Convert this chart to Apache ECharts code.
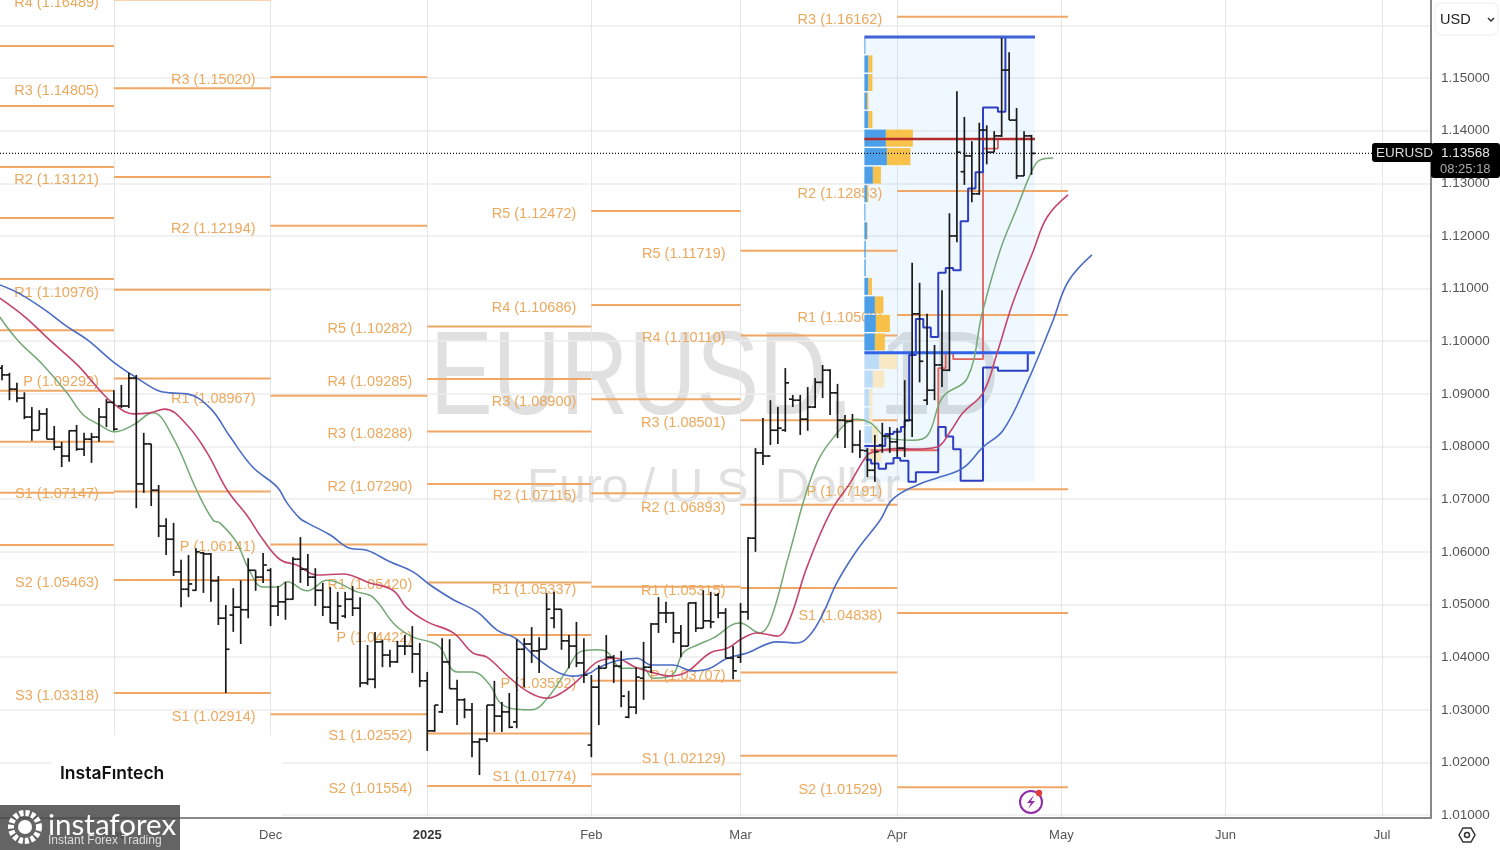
<!DOCTYPE html>
<html>
<head>
<meta charset="utf-8">
<title>EURUSD 1D</title>
<script src="https://cdn.jsdelivr.net/npm/echarts@6/dist/echarts.min.js"></script>
<style>
  html, body { margin: 0; padding: 0; background: #fff; }
  #chart { width: 1500px; height: 850px; }
</style>
</head>
<body>
<div id="chart"></div>
<script>
// daily bars (index 0 is the first visible bar)
const opens = [1.0949,1.0936,1.0909,1.0892,1.0856,1.0831,1.0862,1.0814,1.0799,1.0782,1.0830,1.0795,1.0814,1.0818,1.0856,1.0884,1.0877,1.0877,1.0930,1.0729,1.0805,1.0717,1.0649,1.0624,1.0562,1.0529,1.0527,1.0598,1.0596,1.0545,1.0474,1.0480,1.0495,1.0490,1.0565,1.0552,1.0565,1.0497,1.0505,1.0510,1.0586,1.0567,1.0552,1.0527,1.0495,1.0465,1.0478,1.0510,1.0493,1.0351,1.0358,1.0429,1.0404,1.0391,1.0421,1.0421,1.0406,1.0355,1.0260,1.0296,1.0391,1.0340,1.0319,1.0300,1.0239,1.0244,1.0309,1.0288,1.0296,1.0277,1.0415,1.0425,1.0412,1.0415,1.0474,1.0491,1.0431,1.0421,1.0389,1.0233,1.0343,1.0379,1.0400,1.0383,1.0286,1.0305,1.0360,1.0381,1.0463,1.0484,1.0484,1.0446,1.0421,1.0503,1.0455,1.0469,1.0518,1.0484,1.0398,1.0400,1.0486,1.0626,1.0788,1.0782,1.0831,1.0831,1.0890,1.0888,1.0852,1.0875,1.0922,1.0945,1.0902,1.0850,1.0848,1.0803,1.0792,1.0755,1.0803,1.0820,1.0809,1.0797,1.0850,1.1052,1.0888,1.0907,1.0955,1.0945,1.1200,1.1322,1.1352,1.1280,1.1401,1.1359,1.1390,1.1515,1.1420,1.1314,1.1390];
const highs = [1.0955,1.0940,1.0921,1.0903,1.0875,1.0869,1.0873,1.0839,1.0809,1.0831,1.0841,1.0826,1.0826,1.0873,1.0890,1.0907,1.0917,1.0940,1.0936,1.0826,1.0805,1.0727,1.0664,1.0655,1.0585,1.0594,1.0607,1.0600,1.0598,1.0554,1.0499,1.0531,1.0546,1.0588,1.0565,1.0598,1.0569,1.0535,1.0543,1.0590,1.0628,1.0596,1.0569,1.0541,1.0533,1.0524,1.0524,1.0535,1.0514,1.0423,1.0448,1.0433,1.0414,1.0431,1.0442,1.0459,1.0427,1.0372,1.0309,1.0436,1.0434,1.0357,1.0322,1.0313,1.0246,1.0309,1.0355,1.0315,1.0332,1.0434,1.0436,1.0457,1.0438,1.0522,1.0524,1.0491,1.0442,1.0467,1.0436,1.0366,1.0385,1.0442,1.0404,1.0412,1.0336,1.0381,1.0429,1.0465,1.0514,1.0505,1.0486,1.0461,1.0503,1.0505,1.0527,1.0524,1.0522,1.0493,1.0421,1.0503,1.0628,1.0797,1.0854,1.0888,1.0875,1.0949,1.0898,1.0898,1.0913,1.0930,1.0955,1.0947,1.0919,1.0860,1.0862,1.0831,1.0797,1.0822,1.0845,1.0837,1.0835,1.0926,1.1149,1.1111,1.1052,1.0993,1.1097,1.1243,1.1475,1.1426,1.1380,1.1415,1.1410,1.1399,1.1576,1.1549,1.1443,1.1399,1.1392];
const lows = [1.0926,1.0888,1.0884,1.0852,1.0811,1.0831,1.0814,1.0793,1.0761,1.0771,1.0792,1.0782,1.0769,1.0809,1.0837,1.0830,1.0873,1.0873,1.0683,1.0712,1.0687,1.0628,1.0594,1.0554,1.0495,1.0514,1.0526,1.0522,1.0505,1.0461,1.0332,1.0448,1.0425,1.0474,1.0526,1.0541,1.0459,1.0478,1.0471,1.0509,1.0541,1.0535,1.0497,1.0478,1.0465,1.0452,1.0474,1.0478,1.0343,1.0347,1.0341,1.0381,1.0381,1.0389,1.0404,1.0370,1.0343,1.0222,1.0258,1.0294,1.0340,1.0271,1.0284,1.0210,1.0176,1.0239,1.0258,1.0258,1.0265,1.0265,1.0343,1.0389,1.0370,1.0415,1.0455,1.0414,1.0379,1.0381,1.0351,1.0210,1.0271,1.0379,1.0351,1.0305,1.0284,1.0292,1.0319,1.0370,1.0446,1.0465,1.0427,1.0400,1.0421,1.0448,1.0455,1.0455,1.0474,1.0398,1.0358,1.0389,1.0471,1.0600,1.0765,1.0803,1.0805,1.0828,1.0875,1.0822,1.0830,1.0873,1.0892,1.0860,1.0816,1.0797,1.0788,1.0778,1.0742,1.0733,1.0788,1.0788,1.0780,1.0780,1.0818,1.0922,1.0879,1.0888,1.0913,1.0943,1.1188,1.1297,1.1264,1.1278,1.1336,1.1359,1.1388,1.1420,1.1308,1.1314,1.1316];
const closes = [1.0936,1.0909,1.0892,1.0856,1.0831,1.0862,1.0814,1.0799,1.0782,1.0830,1.0795,1.0814,1.0818,1.0856,1.0884,1.0833,1.0877,1.0930,1.0729,1.0805,1.0717,1.0649,1.0624,1.0562,1.0529,1.0539,1.0600,1.0596,1.0545,1.0474,1.0415,1.0495,1.0490,1.0565,1.0552,1.0575,1.0497,1.0505,1.0510,1.0586,1.0567,1.0552,1.0527,1.0495,1.0465,1.0497,1.0510,1.0493,1.0351,1.0358,1.0429,1.0404,1.0391,1.0421,1.0421,1.0406,1.0355,1.0260,1.0309,1.0391,1.0340,1.0319,1.0300,1.0239,1.0244,1.0309,1.0288,1.0296,1.0267,1.0415,1.0425,1.0412,1.0415,1.0491,1.0491,1.0431,1.0421,1.0389,1.0366,1.0343,1.0379,1.0400,1.0383,1.0326,1.0305,1.0362,1.0381,1.0463,1.0484,1.0484,1.0446,1.0421,1.0503,1.0455,1.0469,1.0467,1.0484,1.0398,1.0374,1.0486,1.0626,1.0788,1.0782,1.0831,1.0835,1.0921,1.0888,1.0852,1.0875,1.0922,1.0945,1.0902,1.0850,1.0848,1.0803,1.0793,1.0755,1.0790,1.0820,1.0809,1.0797,1.0850,1.1052,1.0962,1.0907,1.0955,1.0945,1.1200,1.1359,1.1352,1.1280,1.1401,1.1359,1.1390,1.1515,1.1420,1.1314,1.1390,1.13568];

// alligator lines
const jawBars = [-0.3,2.4,5.8,8.4,11.5,14.9,18.1,20.8,22.5,24.8,27.9,30.6,33.6,36.9,38.2,39.9,40.9,44,46.6,48.9,52,55.1,57.4,60.5,63.7,66.4,68.8,71.7,74.4,76.5,78.8,79.8,82.4,85.1,87.1,89.9,92.6,94.9,97.2,99.9,103.9,106.6,108.3,110.1,111.9,114.6,117.7,119.4,122.7,125.7,128.8,131.5,134.2,137.4,140.9,142.9,146.1];
const jawVals = [1.1107,1.1090,1.1059,1.1031,1.1002,1.0961,1.0930,1.0907,1.0902,1.0900,1.0873,1.0818,1.0761,1.0723,1.0693,1.0664,1.0655,1.0632,1.0607,1.0603,1.0581,1.0562,1.0537,1.0509,1.0486,1.0451,1.0436,1.0398,1.0372,1.0364,1.0370,1.0379,1.0393,1.0398,1.0385,1.0385,1.0374,1.0379,1.0398,1.0408,1.0429,1.0427,1.0442,1.0484,1.0541,1.0603,1.0660,1.0700,1.0727,1.0742,1.0759,1.0799,1.0831,1.0921,1.1040,1.1113,1.1164];
const teethBars = [-0.3,3.1,6.4,10.1,13.1,14.9,17.6,19.8,21.8,24.8,27.5,30.2,32.8,35,37.3,39.5,42.2,45.7,49.3,52.4,54.3,57,60.5,63.1,65,68.1,70.8,73.1,75.2,77.5,79.8,82.2,84.9,86.9,89.5,91.8,94.9,97.2,99.3,101.2,103.9,105.4,107.9,111,113.7,116,117,119.7,122.4,125.3,127.1,128.8,131.5,133.4,135.5,138.2,140.1,142.9];
const teethVals = [1.1082,1.1046,1.1002,1.0955,1.0907,1.0882,1.0862,1.0864,1.0871,1.0841,1.0788,1.0717,1.0670,1.0623,1.0585,1.0575,1.0556,1.0558,1.0541,1.0527,1.0493,1.0467,1.0446,1.0408,1.0400,1.0360,1.0332,1.0322,1.0334,1.0360,1.0391,1.0398,1.0381,1.0372,1.0364,1.0372,1.0408,1.0417,1.0436,1.0446,1.0440,1.0465,1.0571,1.0674,1.0731,1.0784,1.0790,1.0796,1.0795,1.0799,1.0828,1.0864,1.0902,1.0978,1.1073,1.1170,1.1236,1.1278];
const lipsBars = [-0.3,2.1,5.5,8.7,10.9,13.1,15.1,17.6,20.2,22.9,26.1,28.3,29.2,31.5,33,35,36.9,38.2,40.9,43.6,47.6,49.7,52.7,55.1,57.4,58.7,61,63.1,65.4,66.8,69,71,73.1,75.7,77.5,79.8,81.1,83.1,85.9,87.3,89.8,91.3,93.2,95.3,98.9,101.6,103,105.4,108.7,111.4,114.6,116.4,118.8,122.1,124.1,126.1,129.4,131.4,133.8,136.1,138.1,139.1,140.9];
const lipsVals = [1.1046,1.1002,1.0955,1.0902,1.0860,1.0841,1.0828,1.0841,1.0864,1.0818,1.0717,1.0660,1.0655,1.0617,1.0569,1.0533,1.0533,1.0543,1.0526,1.0546,1.0524,1.0514,1.0461,1.0438,1.0429,1.0419,1.0372,1.0372,1.0347,1.0313,1.0301,1.0300,1.0322,1.0375,1.0410,1.0414,1.0410,1.0379,1.0379,1.0360,1.0366,1.0408,1.0423,1.0436,1.0465,1.0446,1.0470,1.0590,1.0750,1.0816,1.0852,1.0845,1.0816,1.0812,1.0822,1.0894,1.0930,1.1054,1.1173,1.1255,1.1325,1.1344,1.1348];

// pivot levels: each line runs levelFrom -> levelTo, its label sits left of it
const levelFrom = [-0.3,-0.3,-0.3,-0.3,-0.3,-0.3,-0.3,-0.3,-0.3,-0.3, 15,15,15,15,15,15,15,15, 36,36,36,36,36, 57,57,57,57,57,57,57,57, 79,79,79,79,79,79,79, 99,99,99,99,99,99,99, 120,120,120,120,120,120];
const levelTo = [15,15,15,15,15,15,15,15,15,15, 36,36,36,36,36,36,36,36, 57,57,57,57,57, 79,79,79,79,79,79,79,79, 99,99,99,99,99,99,99, 120,120,120,120,120,120,120, 142.9,142.9,142.9,142.9,142.9,142.9];
const levelName = ['','','','','','','','','','', 'R4','R3','R2','R1','P','S1','S2','S3', 'R3','R2','R1','P','S1', 'R5','R4','R3','R2','R1','P','S1','S2', 'R5','R4','R3','R2','R1','P','S1', 'R5','R4','R3','R2','R1','P','S1', 'R3','R2','R1','P','S1','S2'];
const levelValue = [1.15608,1.1447,1.1331,1.1234,1.1118,1.1021,1.0906,1.0809,1.0712,1.0613, 1.16489,1.14805,1.13121,1.10976,1.09292,1.07147,1.05463,1.03318, 1.15020,1.12194,1.08967,1.06141,1.02914, 1.10282,1.09285,1.08288,1.07290,1.05420,1.04422,1.02552,1.01554, 1.12472,1.10686,1.08900,1.07115,1.05337,1.03552,1.01774, 1.11719,1.10110,1.08501,1.06893,1.05315,1.03707,1.02129, 1.16162,1.12853,1.10500,1.07191,1.04838,1.01529];

// fixed range volume profile
const profileFrom = 115.6;
const profileTo = 138.47;
const profileHigh = 1.1578;
const profileLow = 1.0733;
const profileRow = 0.00352;
const profileBuy = [0.13,0.54,0.54,0.34,0.54,2.88,3.02,1.14,0.34,0.13,0.34,0.17,0.17,0.54,1.41,1.54,1.41,2.01,1.14,0.67,0.67,1.07,0.67,0.2];
const profileSell = [0,0.54,0.54,0.2,0.54,3.62,3.15,1.07,0.2,0,0.09,0,0,0.47,1.14,1.88,1.34,2.35,1.54,0.4,0.4,0.8,1.61,0.13];
const profilePoc = 1.1384;
const profileVal = 1.0978;
const upperBars = [115.6,118.4,119.5,120.5,121,121.6,122.5,123.5,124.5,125.5,126.5,127.5,128.5,129.5,130.5,131.5,133.5,134.5];
const upperVals = [1.0801,1.0824,1.0828,1.0837,1.0849,1.0974,1.1042,1.1026,1.1008,1.1130,1.1139,1.1135,1.1228,1.1290,1.1321,1.1444,1.1436,1.1578];
const lowerBars = [115.8,116.5,117.5,118.5,119.5,120.4,121.5,122.5,125.5,126.5,127.5,128.5,131.5,133.5,137.5];
const lowerVals = [1.0775,1.0768,1.0758,1.0768,1.0778,1.0773,1.0733,1.0751,1.0837,1.0819,1.0795,1.0735,1.0950,1.0944,1.0978];
const redBars = [116.4,125.5,126.5,127.5,131.5,133.5];
const redVals = [1.0793,1.0949,1.0978,1.0966,1.1366,1.1383];

const monthBars = [15,36,57,79,99,120,142,164,185];
const monthLabels = ['Nov','Dec','2025','Feb','Mar','Apr','May','Jun','Jul'];
const priceTicks = [1.01,1.02,1.03,1.04,1.05,1.06,1.07,1.08,1.09,1.10,1.11,1.12,1.13,1.14,1.15,1.16];
const lastPrice = 1.13568;

const FONT = '"Liberation Sans", Arial, sans-serif';
const xMin = -0.268;
const xMax = 191.55;
const zip = (xs, ys) => xs.map((x, i) => [x, ys[i]]);

const chart = echarts.init(document.getElementById('chart'));

function renderBar(params, api) {
  const i = api.value(0);
  const half = api.size([1, 0])[0] / 2;
  const hi = api.coord([i, api.value(2)]);
  const lo = api.coord([i, api.value(3)]);
  const op = api.coord([i, api.value(1)]);
  const cl = api.coord([i, api.value(4)]);
  const style = { stroke: '#1a1a1a', lineWidth: 1.7, fill: null };
  return {
    type: 'group',
    children: [
      { type: 'line', shape: { x1: hi[0], y1: hi[1], x2: lo[0], y2: lo[1] }, style },
      { type: 'line', shape: { x1: op[0] - half, y1: op[1], x2: op[0], y2: op[1] }, style },
      { type: 'line', shape: { x1: cl[0], y1: cl[1], x2: cl[0] + half, y2: cl[1] }, style }
    ]
  };
}

function renderLevel(params, api) {
  const a = api.coord([api.value(0), api.value(2)]);
  const b = api.coord([api.value(1), api.value(2)]);
  const children = [
    { type: 'line', shape: { x1: a[0], y1: a[1], x2: b[0], y2: b[1] }, style: { stroke: '#f0a766', lineWidth: 2 } }
  ];
  const name = levelName[params.dataIndex];
  if (name) {
    children.push({
      type: 'text',
      style: {
        x: a[0] - 15, y: a[1] + 3,
        text: name + ' (' + api.value(2).toFixed(5) + ')',
        fill: '#eba95e', font: '14.5px ' + FONT, align: 'right', verticalAlign: 'middle'
      }
    });
  }
  return { type: 'group', children };
}

function renderProfileBox(params, api) {
  const a = api.coord([api.value(0), api.value(2)]);
  const b = api.coord([api.value(1), api.value(3)]);
  return { type: 'rect', shape: { x: a[0], y: a[1], width: b[0] - a[0], height: b[1] - a[1] }, style: { fill: 'rgba(33,150,243,0.07)' } };
}

function renderProfileRow(params, api) {
  const k = params.dataIndex;
  const top = profileHigh - k * profileRow;
  const a = api.coord([profileFrom, top]);
  const b = api.coord([profileFrom + api.value(0), top - profileRow]);
  const c = api.coord([profileFrom + api.value(0) + api.value(1), top - profileRow]);
  const inside = k <= 16;
  const h = b[1] - a[1] - 1.5;
  return {
    type: 'group',
    children: [
      { type: 'rect', shape: { x: a[0], y: a[1], width: b[0] - a[0], height: h }, style: { fill: inside ? '#4a9fe8' : '#bcdcf8' } },
      { type: 'rect', shape: { x: b[0], y: a[1], width: c[0] - b[0], height: h }, style: { fill: inside ? '#f7c14a' : '#f8e9c4' } }
    ]
  };
}

function lineSeries(data, color, width, z, extra) {
  return Object.assign({
    type: 'line', data, symbol: 'none', silent: true, z,
    lineStyle: { color, width }
  }, extra || {});
}

const option = {
  animation: false,
  grid: { left: 0, right: 69, top: 0, bottom: 32 },
  xAxis: {
    type: 'value', min: xMin, max: xMax,
    axisLine: { onZero: false, lineStyle: { color: '#888', width: 2 } },
    axisTick: { show: false, customValues: monthBars },
    axisLabel: {
      customValues: monthBars, color: '#555', fontFamily: FONT, fontSize: 13, margin: 11,
      formatter: v => {
        const label = monthLabels[monthBars.indexOf(v)];
        return label === '2025' ? '{b|2025}' : label;
      },
      rich: { b: { fontWeight: 'bold', color: '#333', fontFamily: FONT, fontSize: 13 } }
    },
    splitLine: { show: true, lineStyle: { color: '#e6e6e6', width: 1 } }
  },
  yAxis: {
    type: 'value', position: 'right', min: 1.00945, max: 1.16481,
    axisLine: { show: true, onZero: false, lineStyle: { color: '#888', width: 2 } },
    axisTick: { show: false, customValues: priceTicks },
    axisLabel: {
      customValues: priceTicks, color: '#555', fontFamily: FONT, fontSize: 13.5, margin: 10,
      padding: [4, 0, 0, 0],
      formatter: v => v.toFixed(5)
    },
    splitLine: { show: true, lineStyle: { color: '#ececec', width: 1.5 } }
  },
  series: [
    {
      type: 'custom', renderItem: renderProfileBox, silent: true, z: 1,
      encode: { x: [0, 1], y: [2, 3] },
      data: [[profileFrom, profileTo, profileHigh, profileLow]]
    },
    {
      type: 'custom', renderItem: renderLevel, silent: true, z: 2,
      encode: { x: [0, 1], y: 2 },
      data: levelValue.map((v, i) => [levelFrom[i], levelTo[i], v])
    },
    {
      type: 'custom', renderItem: renderProfileRow, silent: true, z: 3,
      data: zip(profileBuy, profileSell)
    },
    lineSeries(zip(redBars, redVals), '#e2625c', 1.8, 4, { step: 'end' }),
    lineSeries(zip(upperBars, upperVals), '#2f3fc4', 2, 4, { step: 'end' }),
    lineSeries(zip(lowerBars, lowerVals), '#2f3fc4', 2, 4, { step: 'end' }),
    lineSeries([[profileFrom, profileHigh], [profileTo, profileHigh]], '#3f63d6', 3, 4),
    lineSeries([[profileFrom, profileVal], [profileTo, profileVal]], '#2f62e8', 3, 4),
    lineSeries([[profileFrom, profilePoc], [profileTo, profilePoc]], '#b22a2a', 2.5, 4),
    lineSeries(zip(lipsBars, lipsVals), '#74a874', 1.5, 5, { smooth: 0.4 }),
    lineSeries(zip(teethBars, teethVals), '#c4456b', 1.6, 5, { smooth: 0.4 }),
    lineSeries(zip(jawBars, jawVals), '#4a6cc4', 1.6, 5, { smooth: 0.4 }),
    {
      type: 'custom', renderItem: renderBar, silent: true, z: 6,
      encode: { x: 0, y: [1, 2, 3, 4] },
      data: opens.map((o, i) => [i, o, highs[i], lows[i], closes[i]])
    },
    lineSeries([[xMin, lastPrice], [xMax, lastPrice]], '#111', 1.2, 7, { lineStyle: { color: '#111', width: 1.2, type: [1, 2] } })
  ],
  graphic: { elements: [
    // watermark
    { type: 'text', z: -1, x: 430, y: 322, scaleY: 1.26, style: { text: 'EURUSD, 1D', fill: '#e0e0e0', font: '94px ' + FONT } },
    { type: 'text', z: -1, x: 527, y: 465, style: { text: 'Euro / U.S. Dollar', fill: '#e0e0e0', font: '48px ' + FONT } },
    // InstaFintech patch
    { type: 'rect', z: 1, shape: { x: 52, y: 735, width: 230, height: 82 }, style: { fill: '#fff' } },
    { type: 'text', z: 1, x: 60, y: 765, style: { text: 'InstaFıntech', fill: '#111', font: '600 17.5px Inter, ' + FONT } },
    // instaforex badge
    { type: 'rect', z: 50, shape: { x: 0, y: 805, width: 180, height: 45 }, style: { fill: 'rgba(75,75,75,0.86)' } },
    { type: 'circle', z: 51, shape: { cx: 25, cy: 827, r: 14 }, style: { fill: null, stroke: '#fff', lineWidth: 6, lineDash: [4, 2] } },
    { type: 'circle', z: 51, shape: { cx: 25, cy: 827, r: 7 }, style: { fill: '#fff' } },
    { type: 'text', z: 51, x: 48, y: 810, style: { text: 'instaforex', fill: '#fff', font: '29.5px Lato, ' + FONT } },
    { type: 'text', z: 51, x: 48, y: 835, style: { text: 'Instant Forex Trading', fill: '#ddd', font: '12px ' + FONT } },
    // hide what falls below the price axis
    { type: 'rect', z: 20, shape: { x: 1432, y: 819, width: 68, height: 31 }, style: { fill: '#fff' } },
    // currency box
    { type: 'rect', z: 20, shape: { x: 1432, y: 0, width: 68, height: 40 }, style: { fill: '#fff' } },
    { type: 'rect', z: 21, shape: { x: 1435, y: 3, width: 63, height: 32, r: 6 }, style: { fill: '#fff', stroke: '#eee', lineWidth: 1 } },
    { type: 'text', z: 22, x: 1440, y: 12, style: { text: 'USD', fill: '#222', font: '14.5px ' + FONT } },
    { type: 'polyline', z: 22, shape: { points: [[1488, 18], [1491, 21], [1494, 18]] }, style: { fill: null, stroke: '#333', lineWidth: 1.5 } },
    // last price tags
    { type: 'rect', z: 30, shape: { x: 1372, y: 143, width: 60, height: 19, r: [3, 0, 0, 3] }, style: { fill: '#000' } },
    { type: 'text', z: 31, x: 1376, y: 146, style: { text: 'EURUSD', fill: '#ddd', font: '13.5px ' + FONT } },
    { type: 'rect', z: 30, shape: { x: 1431, y: 143, width: 69, height: 35, r: 3 }, style: { fill: '#000' } },
    { type: 'text', z: 31, x: 1441, y: 146, style: { text: '1.13568', fill: '#e8e8e8', font: '13.5px ' + FONT } },
    { type: 'text', z: 31, x: 1440, y: 163, style: { text: '08:25:18', fill: '#aaa', font: '13px ' + FONT } },
    // settings hexagon
    { type: 'polygon', z: 22, shape: { points: [[1459, 835], [1463, 828], [1471, 828], [1475, 835], [1471, 842], [1463, 842]] }, style: { fill: null, stroke: '#333', lineWidth: 1.5 } },
    { type: 'circle', z: 22, shape: { cx: 1467, cy: 835, r: 2.5 }, style: { fill: null, stroke: '#333', lineWidth: 1.5 } },
    // lightning badge
    { type: 'circle', z: 22, shape: { cx: 1031, cy: 802, r: 11 }, style: { fill: '#fff', stroke: '#8e2ca5', lineWidth: 2 } },
    { type: 'polygon', z: 23, shape: { points: [[1034, 795], [1027, 803], [1031, 803], [1028, 809], [1035, 801], [1031, 801]] }, style: { fill: '#8e2ca5' } },
    { type: 'circle', z: 23, shape: { cx: 1039, cy: 793, r: 3.2 }, style: { fill: '#e0403a' } }
  ] }
};

chart.setOption(option);
window.addEventListener('resize', () => chart.resize());
</script>
</body>
</html>
